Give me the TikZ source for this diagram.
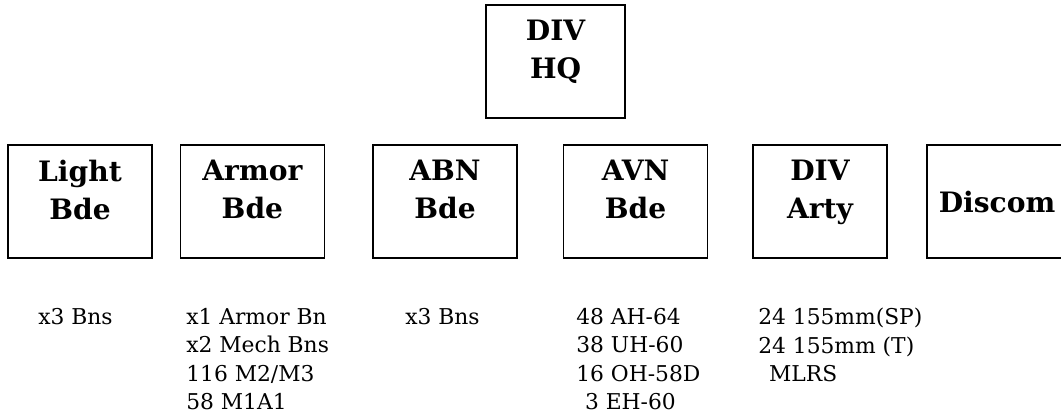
\documentclass[tikz,border=0pt]{standalone}
\usepackage{fontspec}
\setmainfont{DejaVu Serif}
\usepackage{tikz}
\usetikzlibrary{positioning}
\newcommand{\boxpad}{\\[-10pt]\mbox{}}

\begin{document}
\begin{tikzpicture}[
  unit/.style={draw, line width=1.2pt, minimum width=3.6cm,
               minimum height=2.83cm, inner sep=0pt, align=center,
               font=\fontsize{20}{27}\selectfont\bfseries},
  holdings/.style={anchor=north west, inner sep=0pt, align=left,
                   font=\fontsize{15.5}{20.2}\selectfont}
]
\useasboundingbox (0,0) rectangle (26.525,-10.325);

\node[unit, minimum width=3.48cm] (hq) at (13.89,-1.54) {DIV\\HQ\boxpad};

\node[unit] (light) at (2.0,-5.04) {Light\\Bde\boxpad};
\node[unit] (armor) at (6.31,-5.04) {Armor\\Bde\boxpad};
\node[unit] (abn) at (11.125,-5.04) {ABN\\Bde\boxpad};
\node[unit] (avn) at (15.89,-5.04) {AVN\\Bde\boxpad};
\node[unit, minimum width=3.35cm] (arty) at (20.5,-5.04) {DIV\\Arty\boxpad};
\node[unit, minimum width=0pt, inner xsep=0.3cm, anchor=west]
  (discom) at (23.15,-5.04) {Discom};

\node[holdings] (lightlist) at (0.95,-7.7) {x3 Bns};
\node[holdings] (armorlist) at (4.65,-7.7)
  {x1 Armor Bn\\x2 Mech Bns\\116 M2/M3\\58 M1A1};
\node[holdings] (abnlist) at (10.125,-7.7) {x3 Bns};
\node[holdings] (avnlist) at (14.4,-7.7)
  {48 AH-64\\38 UH-60\\16 OH-58D\\\hspace*{0.4em}3 EH-60};
\node[holdings] (artylist) at (18.95,-7.7)
  {24 155mm(SP)\\24 155mm (T)\\\hspace*{0.5em}MLRS};

\end{tikzpicture}
\end{document}
